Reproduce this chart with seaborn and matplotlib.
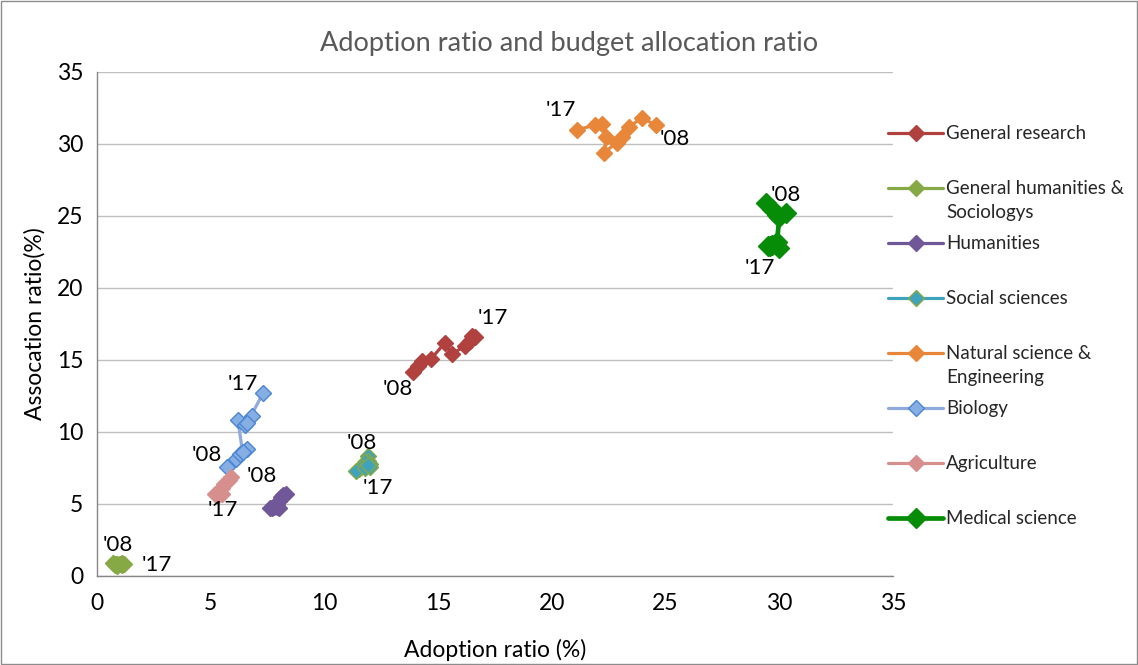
import matplotlib
matplotlib.use("Agg")
import matplotlib.pyplot as plt
from matplotlib.patches import Rectangle
import seaborn as sns
import pandas as pd

# Fiscal years 2008-2017 (first and last are tagged on the chart)
years = [2008, 2009, 2010, 2011, 2012, 2013, 2014, 2015, 2016, 2017]

series_names = [
    "General research",
    "General humanities &\nSociologys",
    "Humanities",
    "Social sciences",
    "Natural science &\nEngineering",
    "Biology",
    "Agriculture",
    "Medical science",
]

# Adoption ratio (%) per field, 2008 -> 2017
gen_research_x = [13.9, 14.1, 14.3, 14.7, 15.3, 15.6, 16.2, 16.4, 16.5, 16.6]
gen_humanities_x = [0.7, 0.8, 0.9, 1.0, 1.1, 1.2, 1.1, 0.9, 0.8, 1.0]
humanities_x = [8.2, 8.3, 8.1, 8.0, 7.9, 8.0, 7.7, 7.8, 7.6, 7.9]
social_x = [11.9, 11.9, 12.0, 11.8, 11.6, 11.5, 11.4, 11.8, 12.0, 11.9]
natural_x = [24.6, 23.95, 23.4, 23.1, 22.85, 22.3, 22.4, 22.2, 21.9, 21.1]
biology_x = [5.7, 6.1, 6.3, 6.6, 6.4, 6.2, 6.5, 6.8, 6.6, 7.3]
agriculture_x = [5.9, 5.8, 5.6, 5.5, 5.4, 5.2, 5.3, 5.5, 5.3, 5.3]
medical_x = [29.4, 29.7, 29.9, 30.3, 30.0, 29.9, 30.0, 29.6, 29.7, 29.5]

# Association (budget allocation) ratio (%) per field, 2008 -> 2017
gen_research_y = [14.2, 14.6, 14.9, 15.1, 16.2, 15.4, 16.0, 16.3, 16.7, 16.6]
gen_humanities_y = [0.9, 0.85, 0.8, 0.8, 0.9, 0.85, 0.75, 0.7, 0.75, 0.8]
humanities_y = [5.6, 5.7, 5.5, 5.2, 4.9, 4.7, 4.7, 4.8, 4.7, 4.8]
social_y = [8.3, 8.0, 7.8, 7.9, 7.6, 7.4, 7.3, 7.5, 7.6, 7.7]
natural_y = [31.3, 31.8, 31.2, 30.5, 30.1, 29.4, 30.5, 31.4, 31.3, 31.0]
biology_y = [7.6, 8.1, 8.5, 8.8, 8.6, 10.8, 10.5, 11.1, 10.6, 12.7]
agriculture_y = [6.9, 6.7, 6.4, 6.1, 5.7, 5.7, 5.8, 5.7, 5.6, 5.7]
medical_y = [25.9, 25.5, 25.1, 25.2, 24.9, 23.2, 22.8, 22.9, 23.0, 22.9]

xs = [gen_research_x, gen_humanities_x, humanities_x, social_x,
      natural_x, biology_x, agriculture_x, medical_x]
ys = [gen_research_y, gen_humanities_y, humanities_y, social_y,
      natural_y, biology_y, agriculture_y, medical_y]

line_colors = ["#B0413E", "#86A845", "#705797", "#3FA3BE",
               "#E8873A", "#8FAADC", "#D68F8C", "#078C07"]
marker_faces = ["#B0413E", "#86A845", "#705797", "#3FA3BE",
                "#E8873A", "#86AEE3", "#D68F8C", "#078C07"]
marker_edges = ["#B0413E", "#86A845", "#705797", "#86A845",
                "#E8873A", "#4A86D4", "#D68F8C", "#078C07"]
line_widths = [2.3, 2.3, 2.3, 2.3, 2.3, 2.3, 2.3, 3.4]
marker_sizes = [8.5, 8.5, 8.5, 8.5, 8.5, 8.5, 8.5, 10.5]

# Year tags: (series index, position in series, text, offset in pixels)
year_tags = [
    (0, 0, "'08", (-15, -17)), (0, 9, "'17", (18, 19)),
    (1, 0, "'08", (5, 18)), (1, 9, "'17", (37, -1)),
    (3, 0, "'08", (-6, 13)), (3, 9, "'17", (10, -23)),
    (4, 0, "'08", (18, -14)), (4, 9, "'17", (-16, 20)),
    (5, 0, "'08", (-20, 12)), (5, 9, "'17", (-20, 9)),
    (6, 0, "'08", (31, 1)), (6, 9, "'17", (5, -16)),
    (7, 0, "'08", (20, 8)), (7, 9, "'17", (-8, -22)),
]

sns.set_theme(style="white")
plt.rcParams["font.family"] = ["Lato", "DejaVu Sans"]

fig = plt.figure(figsize=(11.38, 6.65), dpi=100)
ax = fig.add_axes([97 / 1138, 1 - 576 / 665, 796 / 1138, 504 / 665])

for i, name in enumerate(series_names):
    df = pd.DataFrame({"year": years, "adoption": xs[i], "association": ys[i]})
    sns.lineplot(data=df, x="adoption", y="association", sort=False,
                 estimator=None, ax=ax, color=line_colors[i],
                 linewidth=line_widths[i], marker="D",
                 markersize=marker_sizes[i],
                 markerfacecolor=marker_faces[i],
                 markeredgecolor=marker_edges[i], markeredgewidth=1.0,
                 label=name, legend=False)

for si, pi, txt, off in year_tags:
    ax.annotate(txt, (xs[si][pi], ys[si][pi]), xytext=off,
                textcoords="offset pixels", ha="center", va="center",
                fontsize=16, color="#000000")

ax.set_xlim(0, 35)
ax.set_ylim(0, 35)
ax.set_xticks(range(0, 36, 5))
ax.set_yticks(range(0, 36, 5))
ax.yaxis.grid(True, color="#BFBFBF", linewidth=1.0)
ax.xaxis.grid(False)
for side in ["top", "right"]:
    ax.spines[side].set_visible(False)
for side in ["left", "bottom"]:
    ax.spines[side].set_color("#868686")
    ax.spines[side].set_linewidth(1.0)
ax.tick_params(axis="both", direction="out", length=5, width=1,
               color="#868686", labelsize=16.5, labelcolor="#000000")
ax.tick_params(axis="x", pad=7)
ax.tick_params(axis="y", pad=5)
ax.set_xlabel("Adoption ratio (%)", fontsize=16.5, color="#000000", labelpad=18)
ax.set_ylabel("Assocation ratio(%)", fontsize=16.5, color="#000000", labelpad=8)

fig.text(0.5, 1 - 43 / 665, "Adoption ratio and budget allocation ratio",
         ha="center", va="center", fontsize=19.5, color="#595959")

handles, labels = ax.get_legend_handles_labels()
labels = [lab if "\n" in lab else lab + "\n" for lab in labels]
leg = fig.legend(handles, labels, loc="upper left",
                 bbox_to_anchor=(888 / 1138, 1 - 125 / 665),
                 frameon=False, fontsize=13.5, handlelength=2.95,
                 handletextpad=0.15, handleheight=1.2, borderpad=0,
                 borderaxespad=0, labelspacing=0.75)
for t in leg.get_texts():
    t.set_linespacing(1.5)
try:
    for col in leg._legend_handle_box.get_children():
        for item in col.get_children():
            item.align = "top"
except AttributeError:
    pass

fig.patches.append(Rectangle((0.0005, 0.0008), 0.999, 0.998,
                             transform=fig.transFigure, fill=False,
                             edgecolor="#8C8C8C", linewidth=1.0))

fig.savefig("out.png", dpi=100)
